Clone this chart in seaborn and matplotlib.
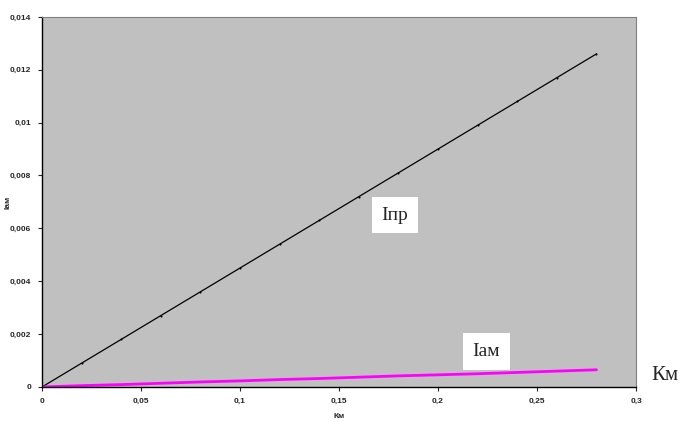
import matplotlib
matplotlib.use("Agg")
import matplotlib.pyplot as plt
import seaborn as sns
import pandas as pd

# DATA
k_values = [0, 0.02, 0.04, 0.06, 0.08, 0.10, 0.12, 0.14, 0.16, 0.18, 0.20, 0.22, 0.24, 0.26, 0.28]
i_pr = [0, 0.0009, 0.0018, 0.0027, 0.0036, 0.0045, 0.0054, 0.0063, 0.0072, 0.0081,
        0.0090, 0.0099, 0.0108, 0.0117, 0.0126]
i_am = [0, 0.00005, 0.00009, 0.00014, 0.00019, 0.00023, 0.00028, 0.00032, 0.00037,
        0.00042, 0.00046, 0.00050, 0.00055, 0.00060, 0.00065]

x_ticks = [0, 0.05, 0.1, 0.15, 0.2, 0.25, 0.3]
x_tick_labels = ["0", "0,05", "0,1", "0,15", "0,2", "0,25", "0,3"]
y_ticks = [0, 0.002, 0.004, 0.006, 0.008, 0.010, 0.012, 0.014]
y_tick_labels = ["0", "0,002", "0,004", "0,006", "0,008", "0,01", "0,012", "0,014"]

df = pd.DataFrame({"K": k_values, "Ipr": i_pr, "Iam": i_am})

# PLOT
sns.set_style("ticks")
plt.rcParams["font.family"] = ["Liberation Serif", "DejaVu Serif"]

fig = plt.figure(figsize=(6.94, 4.22), dpi=100)
ax = fig.add_axes([0.0605, 0.083, 0.856, 0.877])
ax.set_facecolor("#c0c0c0")

sns.lineplot(data=df, x="K", y="Ipr", ax=ax, color="black", linewidth=0.9,
             marker="o", markersize=1.5, markeredgewidth=0)
sns.lineplot(data=df, x="K", y="Iam", ax=ax, color="#ff00ff", linewidth=2.0)

ax.set_xlim(0, 0.3)
ax.set_ylim(0, 0.014)
ax.set_xticks(x_ticks)
ax.set_xticklabels(x_tick_labels, fontsize=6, fontweight="bold", family="Liberation Sans")
ax.set_yticks(y_ticks)
ax.set_yticklabels(y_tick_labels, fontsize=6, fontweight="bold", family="Liberation Sans")
ax.tick_params(length=3, width=0.8, pad=5)

ax.set_xlabel("Км", fontsize=6, fontweight="bold", family="Liberation Sans", labelpad=6)
ax.set_ylabel("Iам", fontsize=6, fontweight="bold", family="Liberation Sans")
ax.yaxis.set_label_coords(-0.052, 0.5)

for side in ["top", "right"]:
    ax.spines[side].set_visible(True)
    ax.spines[side].set_color("#808080")
for side in ["left", "bottom"]:
    ax.spines[side].set_color("black")
    ax.spines[side].set_linewidth(1.0)

box = dict(boxstyle="square,pad=0.5", facecolor="white", edgecolor="none")
ax.text(0.1715, 0.0065, "Iпр", fontsize=14, ha="left", va="center", bbox=box)
ax.text(0.2175, 0.00135, "Iам", fontsize=14, ha="left", va="center", bbox=box)
fig.text(0.938, 0.11, "Км", fontsize=15, ha="left", va="center")

plt.savefig("out.png", dpi=100)
plt.close()
